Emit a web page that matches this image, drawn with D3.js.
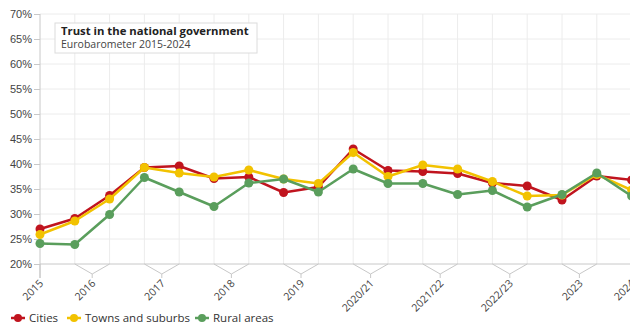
<!DOCTYPE html>
<html lang="en">
<head>
    <meta charset="UTF-8">
    <title>Trust in the national government</title>
    <script src="https://d3js.org/d3.v7.min.js"></script>
    <style>
        body { margin: 0; background: #fff; }
        svg { display: block; overflow: hidden; font-family: "Open Sans", sans-serif; }
        .grid line { stroke: #ececec; }
        .y-axis text { fill: #444; font-size: 11px; }
        .y-axis line, .y-axis path { stroke: #c8c8c8; }
        .group-label { fill: #444; font-size: 10.5px; }
        .legend text { fill: #333; font-size: 11.5px; }
    </style>
</head>
<body>
    <svg></svg>
    <script>
        // Survey waves (one point each) and the year group they belong to
        const groups = ["2015", "2016", "2017", "2018", "2019", "2020/21", "2021/22", "2022/23", "2023", "2024"];
        const waveGroup = [0, 1, 1, 2, 2, 3, 3, 4, 4, 5, 5, 6, 6, 7, 7, 8, 8, 9];

        // Trust values (%)
        const cities   = [27.0, 29.1, 33.7, 39.3, 39.6, 37.1, 37.4, 34.3, 35.4, 43.0, 38.7, 38.5, 38.1, 36.2, 35.6, 32.8, 37.6, 36.8];
        const towns    = [25.9, 28.6, 33.0, 39.3, 38.2, 37.4, 38.8, 37.0, 36.1, 42.3, 37.5, 39.8, 39.0, 36.5, 33.6, 33.8, 37.9, 34.8];
        const rural    = [24.1, 23.9, 29.9, 37.3, 34.4, 31.5, 36.2, 37.0, 34.4, 39.0, 36.1, 36.1, 33.9, 34.7, 31.4, 33.9, 38.2, 33.6];

        const yTicks = [20, 25, 30, 35, 40, 45, 50, 55, 60, 65, 70];

        const series = [
            { name: "Cities", values: cities, color: "#c0141e" },
            { name: "Towns and suburbs", values: towns, color: "#f2c200" },
            { name: "Rural areas", values: rural, color: "#5a9e5c" }
        ];

        const width = 630, height = 327;
        const svg = d3.select("svg").attr("width", width).attr("height", height);

        const x = d3.scalePoint()
            .domain(d3.range(waveGroup.length))
            .range([40, 40 + 34.8 * (waveGroup.length - 1)]);

        const y = d3.scaleLinear().domain([20, 70]).range([264, 14]);

        // Grid lines
        const grid = svg.append("g").attr("class", "grid");
        grid.selectAll(".h").data(yTicks.slice(1)).enter().append("line")
            .attr("x1", 40).attr("x2", width)
            .attr("y1", d => y(d)).attr("y2", d => y(d));
        grid.selectAll(".v").data(x.domain().slice(1)).enter().append("line")
            .attr("x1", d => x(d)).attr("x2", d => x(d))
            .attr("y1", y(70)).attr("y2", y(20));

        // Y axis
        svg.append("g")
            .attr("class", "y-axis")
            .attr("transform", "translate(40,0)")
            .call(d3.axisLeft(y).tickValues(yTicks).tickSize(6).tickPadding(2).tickFormat(d => d + "%"))
            .call(g => g.select(".domain").attr("d", `M0,${y(70)}V${y(20) + 14}`));

        // X axis baseline
        svg.append("line")
            .attr("x1", 40).attr("x2", width)
            .attr("y1", y(20)).attr("y2", y(20))
            .attr("stroke", "#c8c8c8");

        // Year group brackets and labels
        const groupInfo = groups.map((g, i) => {
            const idx = waveGroup.map((gi, k) => gi === i ? k : -1).filter(k => k >= 0);
            const x0 = x(idx[0]), x1 = x(idx[idx.length - 1]);
            return { label: g, x0, x1, cx: (x0 + x1) / 2 };
        });

        const base = y(20);
        const brackets = svg.append("g");
        brackets.selectAll("path").data(groupInfo).enter().append("path")
            .attr("fill", "none")
            .attr("stroke", "#c8c8c8")
            .attr("d", d => d.x0 === d.x1
                ? `M${d.x0},${base}V${base + 14}`
                : `M${d.x0},${base}L${d.cx},${base + 10}L${d.x1},${base}M${d.cx},${base + 10}V${base + 14}`);

        brackets.selectAll("text").data(groupInfo).enter().append("text")
            .attr("class", "group-label")
            .attr("text-anchor", "end")
            .attr("transform", d => `translate(${d.cx + 4},${base + 20}) rotate(-45)`)
            .text(d => d.label);

        // Lines and markers
        const line = d3.line().x((d, i) => x(i)).y(d => y(d));
        series.forEach(s => {
            svg.append("path")
                .datum(s.values)
                .attr("fill", "none")
                .attr("stroke", s.color)
                .attr("stroke-width", 2.5)
                .attr("stroke-linejoin", "round")
                .attr("d", line);
            svg.append("g").selectAll("circle")
                .data(s.values)
                .enter().append("circle")
                .attr("cx", (d, i) => x(i))
                .attr("cy", d => y(d))
                .attr("r", 4.5)
                .attr("fill", s.color);
        });

        // Title box
        const title = svg.append("g").attr("transform", "translate(55,23)");
        title.append("rect")
            .attr("width", 202).attr("height", 30)
            .attr("fill", "#fff").attr("stroke", "#dcdcdc");
        title.append("text")
            .attr("x", 6).attr("y", 12)
            .attr("font-size", "11.3px").attr("font-weight", "bold").attr("fill", "#222")
            .text("Trust in the national government");
        title.append("text")
            .attr("x", 6).attr("y", 25)
            .attr("font-size", "10.5px").attr("fill", "#444")
            .text("Eurobarometer 2015-2024");

        // Legend
        const legendX = [11, 67, 195];
        const legend = svg.append("g").attr("class", "legend");
        const item = legend.selectAll("g").data(series).enter().append("g")
            .attr("transform", (d, i) => `translate(${legendX[i]},318)`);
        item.append("line")
            .attr("x1", 0).attr("x2", 14)
            .attr("stroke", d => d.color).attr("stroke-width", 2.5);
        item.append("circle")
            .attr("cx", 7).attr("r", 4).attr("fill", d => d.color);
        item.append("text")
            .attr("x", 18).attr("dy", "0.35em")
            .text(d => d.name);
    </script>
</body>
</html>
